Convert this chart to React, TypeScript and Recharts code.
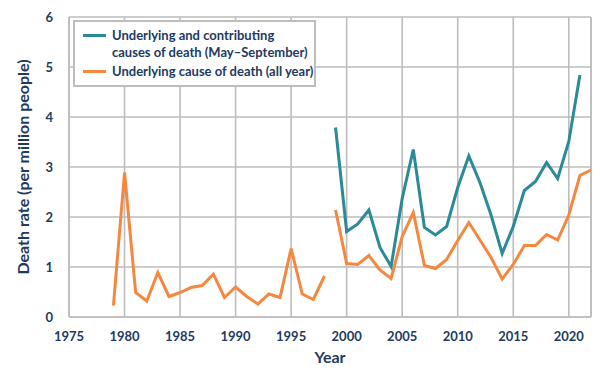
import React from "react";
import { LineChart, Line, XAxis, YAxis, CartesianGrid, ReferenceLine } from "recharts";

const years: number[] = [
  1979, 1980, 1981, 1982, 1983, 1984, 1985, 1986, 1987, 1988, 1989, 1990, 1991, 1992, 1993, 1994, 1995, 1996, 1997, 1998,
  1999, 2000, 2001, 2002, 2003, 2004, 2005, 2006, 2007, 2008, 2009, 2010, 2011, 2012, 2013, 2014, 2015, 2016, 2017, 2018, 2019, 2020, 2021, 2022,
];
// Underlying cause of death (all year), 1979–1998
const underlyingEarly: number[] = [
  0.23, 2.89, 0.49, 0.32, 0.89, 0.41, 0.49, 0.59, 0.63, 0.86, 0.39, 0.6, 0.41, 0.26, 0.46, 0.39, 1.37, 0.46, 0.35, 0.82,
];
// Underlying cause of death (all year), 1999–2022
const underlyingLate: number[] = [
  2.14, 1.07, 1.05, 1.23, 0.94, 0.77, 1.61, 2.09, 1.03, 0.97, 1.15, 1.53, 1.89, 1.54, 1.19, 0.76, 1.05, 1.43, 1.43, 1.65, 1.54, 2.04, 2.83, 2.94,
];
// Underlying and contributing causes (May–September), 1999–2021
const contributing: number[] = [
  3.79, 1.71, 1.86, 2.14, 1.39, 1.01, 2.37, 3.35, 1.79, 1.64, 1.81, 2.59, 3.22, 2.69, 2.04, 1.27, 1.81, 2.53, 2.71, 3.09, 2.77, 3.51, 4.84,
];
const xTicks: number[] = [1975, 1980, 1985, 1990, 1995, 2000, 2005, 2010, 2015, 2020];
const yTicks: number[] = [0, 1, 2, 3, 4, 5, 6];

const TEAL = "#2a8a98";
const ORANGE = "#f5883e";
const NAVY = "#1e3a5f";
const LINE_GRAY = "#bdbdbd";
const FONT = "Lato, 'Open Sans', sans-serif";

const data = years.map((year, i) => ({
  year,
  early: i < underlyingEarly.length ? underlyingEarly[i] : null,
  late: i >= underlyingEarly.length ? underlyingLate[i - underlyingEarly.length] : null,
  contrib:
    i >= underlyingEarly.length && i - underlyingEarly.length < contributing.length
      ? contributing[i - underlyingEarly.length]
      : null,
}));

const LegendBox = () => (
  <div
    style={{
      position: "absolute",
      left: 73,
      top: 20,
      borderWidth: 2,
      borderStyle: "solid",
      borderColor: LINE_GRAY,
      background: "#fff",
      width: 243,
      height: 67,
      boxSizing: "border-box",
      padding: "5px 0 0 8px",
      fontFamily: FONT,
      fontWeight: 700,
      fontSize: 13,
      color: NAVY,
      lineHeight: "17px",
      textAlign: "left",
    }}
  >
    <div style={{ display: "flex", alignItems: "flex-start" }}>
      <div style={{ width: 23, height: 3, background: TEAL, marginTop: 7, marginRight: 6, flexShrink: 0 }} />
      <div>
        Underlying and contributing
        <br />
        causes of death (May–September)
      </div>
    </div>
    <div style={{ display: "flex", alignItems: "flex-start", marginTop: 2 }}>
      <div style={{ width: 23, height: 3, background: ORANGE, marginTop: 7, marginRight: 6, flexShrink: 0 }} />
      <div>Underlying cause of death (all year)</div>
    </div>
  </div>
);

const YLabel = (props: any) => {
  const vb = props.viewBox || { y: 17, height: 300 };
  const cy = vb.y + vb.height / 2;
  return (
    <text
      x={29}
      y={cy}
      transform={`rotate(-90 29 ${cy})`}
      textAnchor="middle"
      fill={NAVY}
      fontFamily={FONT}
      fontWeight={700}
      fontSize={16}
    >
      Death rate (per million people)
    </text>
  );
};

const XLabel = (props: any) => {
  const vb = props.viewBox || { x: 69, width: 522 };
  return (
    <text x={vb.x + vb.width / 2} y={363} textAnchor="middle" fill={NAVY} fontFamily={FONT} fontWeight={700} fontSize={16}>
      Year
    </text>
  );
};

export default function App() {
  return (
    <div style={{ marginLeft: -8, marginTop: -8, width: 600, height: 375, position: "relative" }}>
      <LineChart width={600} height={375} data={data} margin={{ top: 17, right: 9, left: 0, bottom: 0 }}>
        <CartesianGrid stroke={LINE_GRAY} strokeWidth={1.6} />
        <XAxis
          dataKey="year"
          type="number"
          domain={[1975, 2022]}
          ticks={xTicks}
          height={58}
          stroke={LINE_GRAY}
          strokeWidth={1.6}
          tickLine={false}
          tickMargin={9}
          tick={{ fill: NAVY, fontSize: 13, fontWeight: 700, fontFamily: FONT }}
          label={<XLabel />}
        />
        <YAxis
          type="number"
          domain={[0, 6]}
          ticks={yTicks}
          width={69}
          stroke={LINE_GRAY}
          strokeWidth={1.6}
          tickLine={false}
          tickMargin={10}
          tick={{ fill: NAVY, fontSize: 13, fontWeight: 700, fontFamily: FONT }}
          label={<YLabel />}
        />
        <ReferenceLine x={2022} stroke={LINE_GRAY} strokeWidth={1.6} />
        <Line type="linear" dataKey="early" stroke={ORANGE} strokeWidth={3} dot={false} isAnimationActive={false} />
        <Line type="linear" dataKey="late" stroke={ORANGE} strokeWidth={3} dot={false} isAnimationActive={false} />
        <Line type="linear" dataKey="contrib" stroke={TEAL} strokeWidth={3} dot={false} isAnimationActive={false} />
      </LineChart>
      <LegendBox />
    </div>
  );
}
